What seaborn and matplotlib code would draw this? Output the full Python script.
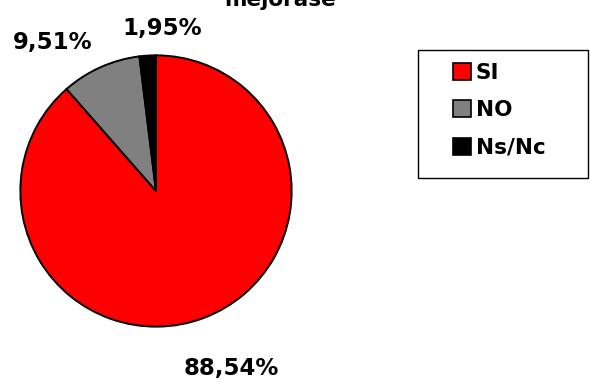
import matplotlib
matplotlib.use("Agg")
import matplotlib.pyplot as plt
import seaborn as sns
from matplotlib.patches import Patch, Rectangle

categories = ["SI", "NO", "Ns/Nc"]
values = [88.54, 9.51, 1.95]
value_labels = ["88,54%", "9,51%", "1,95%"]
colors = ["#FF0000", "#808080", "#000000"]
title_text = "mejorase"

sns.set_theme(style="white")
plt.rcParams['font.family'] = ['DejaVu Sans']

W, H = 590, 383
fig = plt.figure(figsize=(W / 100, H / 100), dpi=100)
fig.patch.set_facecolor("white")

cx, cy, r = 156, 191, 137
ax = fig.add_axes([(cx - r) / W, (H - cy - r) / H, 2 * r / W, 2 * r / H])
ax.pie(values, colors=colors, startangle=90, counterclock=False,
       wedgeprops=dict(edgecolor="black", linewidth=1.4), radius=1)
ax.set_xlim(-1.01, 1.01)
ax.set_ylim(-1.01, 1.01)
ax.set_aspect("equal")
ax.axis("off")

# label positions (layout, in pie units)
label_pos = [(0.555, -1.31), (-0.76, 1.095), (0.044, 1.20)]
for txt, (lx, ly) in zip(value_labels, label_pos):
    ax.text(lx, ly, txt, ha="center", va="center", fontsize=16.5,
            fontweight="bold", color="black", clip_on=False)

fig.text(280 / W, 1 - 6 / H, title_text, ha="center", va="baseline",
         fontsize=15.5, fontweight="bold", color="black")

# legend box
box = Rectangle((418 / W, 1 - 178 / H), (588 - 418) / W, (178 - 50) / H,
                transform=fig.transFigure, facecolor="white",
                edgecolor="black", linewidth=1.0)
fig.patches.append(box)
handles = [Patch(facecolor=c, edgecolor="black", linewidth=1.2) for c in colors]
leg = fig.legend(handles, categories, loc="upper left",
                 bbox_to_anchor=(438 / W, 1 - 48 / H), frameon=False,
                 handlelength=0.85, handleheight=0.85, handletextpad=0.2,
                 labelspacing=0.8, borderpad=0.2, labelcolor="black",
                 prop=dict(size=15.5, weight="bold"))

fig.savefig("out.png", dpi=100, facecolor="white")
